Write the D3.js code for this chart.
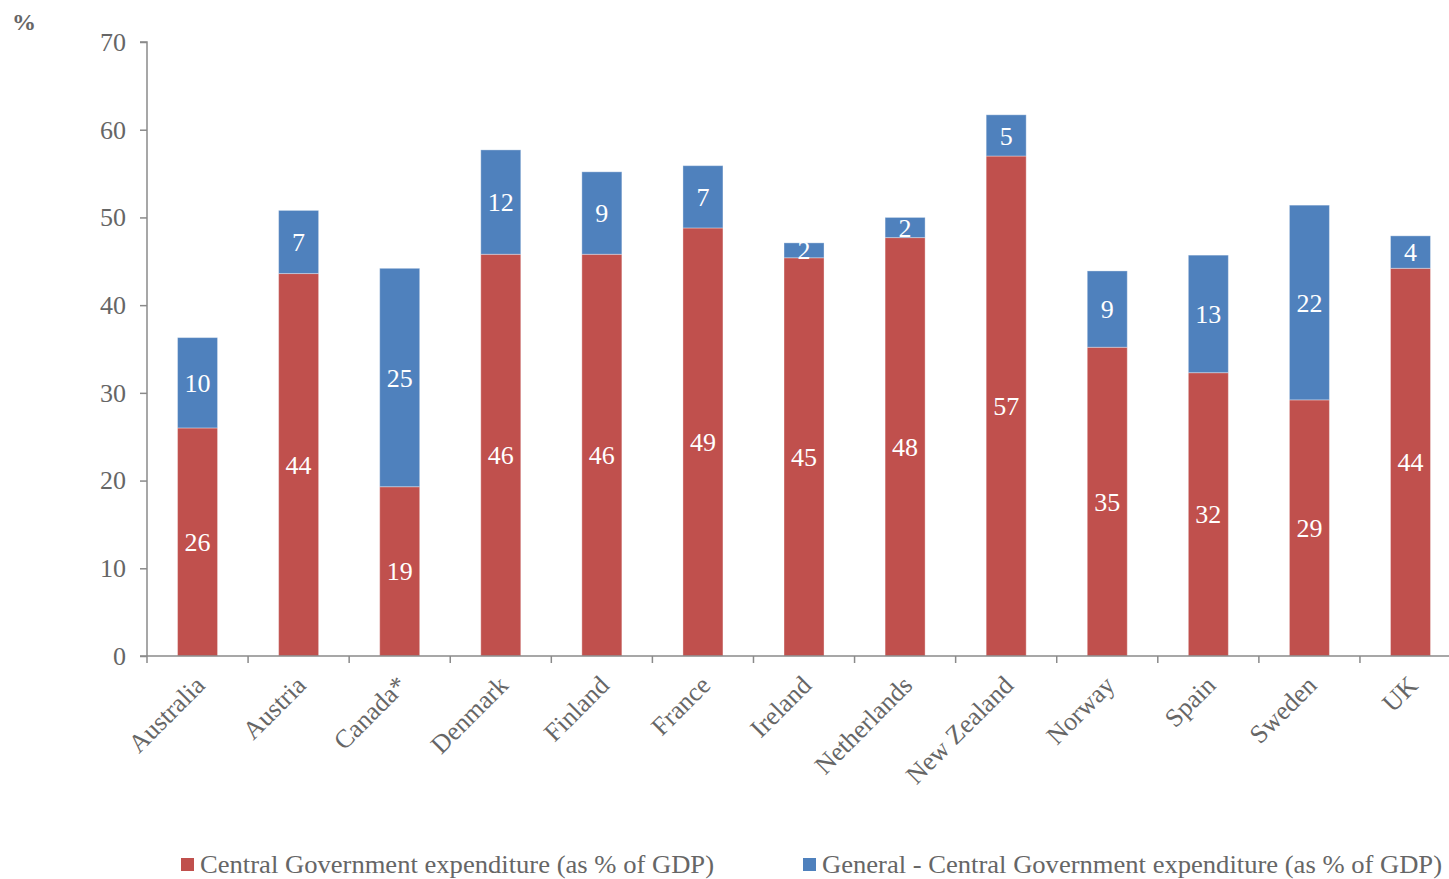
<!DOCTYPE html>
<html>
<head>
<meta charset="utf-8">
<script src="https://cdn.jsdelivr.net/npm/d3@7"></script>
<style>
  body { margin: 0; background: #fff; }
  svg { display: block; }
</style>
</head>
<body>
<svg id="chart" width="1449" height="879"></svg>
<script>
// data
let countries = ["Australia", "Austria", "Canada*", "Denmark", "Finland", "France", "Ireland",
  "Netherlands", "New Zealand", "Norway", "Spain", "Sweden", "UK"];
let central = [26.0, 43.6, 19.3, 45.8, 45.8, 48.8, 45.4, 47.7, 57.0, 35.2, 32.3, 29.2, 44.2];
let general = [10.3, 7.2, 24.9, 11.9, 9.4, 7.1, 1.7, 2.3, 4.7, 8.7, 13.4, 22.2, 3.7];
let series_names = ["Central Government expenditure (as % of GDP)",
  "General - Central Government expenditure (as % of GDP)"];
let y_ticks = [0, 10, 20, 30, 40, 50, 60, 70];

let colors = ["#C0504D", "#4F81BD"];
let font = "'Liberation Serif', 'Times New Roman', serif";
let grey_text = "#666666";
let axis_color = "#8a8a8a";

let svg = d3.select("#chart");

let left = 147;
let band_w = 101.08;
let x = d3.scaleBand()
  .domain(countries)
  .range([left, left + band_w * countries.length])
  .paddingInner(0)
  .paddingOuter(0);

let y = d3.scaleLinear()
  .domain([0, 70])
  .range([656, 42]);

let bar_w = 40;

let stacked = countries.map((c, i) => {
  return [
    {key: 0, country: c, y0: 0, y1: central[i], v: central[i]},
    {key: 1, country: c, y0: central[i], y1: central[i] + general[i], v: general[i]}
  ];
});

let bars = svg.append("g").attr("class", "bars");
stacked.forEach(segs => {
  let g = bars.append("g");
  g.selectAll("rect").data(segs).enter().append("rect")
    .attr("x", d => x(d.country) + x.bandwidth() / 2 - bar_w / 2)
    .attr("width", bar_w)
    .attr("y", d => y(d.y1))
    .attr("height", d => y(d.y0) - y(d.y1))
    .attr("fill", d => colors[d.key])
    .attr("stroke", "#ffffff")
    .attr("stroke-opacity", 0.35)
    .attr("stroke-width", 1);

  g.selectAll("text").data(segs).enter().append("text")
    .attr("x", d => x(d.country) + x.bandwidth() / 2)
    .attr("y", d => (y(d.y0) + y(d.y1)) / 2)
    .attr("dy", "0.35em")
    .attr("text-anchor", "middle")
    .attr("fill", "#ffffff")
    .style("font-family", font)
    .style("font-size", "26px")
    .text(d => Math.round(d.v));
});

// y axis
let yAxis = d3.axisLeft(y).tickValues(y_ticks).tickSize(7).tickPadding(14);
let yg = svg.append("g").attr("transform", "translate(" + left + ",0)").call(yAxis);
yg.select(".domain").attr("stroke", axis_color).attr("stroke-width", 1.5)
  .attr("d", "M-7," + y(70) + "H0V" + y(0));
yg.selectAll(".tick line").attr("stroke", axis_color).attr("stroke-width", 1.5);
yg.selectAll(".tick text").attr("fill", grey_text)
  .style("font-family", font).style("font-size", "26px");

// x axis line and ticks between categories
let xg = svg.append("g");
xg.append("line")
  .attr("x1", left - 7).attr("x2", 1449)
  .attr("y1", y(0)).attr("y2", y(0))
  .attr("stroke", axis_color).attr("stroke-width", 1.5);
xg.selectAll(".xtick").data(countries).enter().append("line").attr("class", "xtick")
  .attr("x1", d => x(d)).attr("x2", d => x(d))
  .attr("y1", y(0)).attr("y2", y(0) + 7)
  .attr("stroke", axis_color).attr("stroke-width", 1.5);
xg.selectAll(".xlabel").data(countries).enter().append("text").attr("class", "xlabel")
  .attr("transform", d => "translate(" + (x(d) + x.bandwidth() / 2 - 4) + "," + (y(0) + 18) + ") rotate(-45)")
  .attr("text-anchor", "end")
  .attr("dy", "0.7em")
  .attr("fill", grey_text)
  .style("font-family", font)
  .style("font-size", "26px")
  .text(d => d);

// unit label
svg.append("text")
  .attr("x", 12).attr("y", 30)
  .attr("fill", grey_text)
  .style("font-family", font)
  .style("font-size", "24px")
  .style("font-weight", "bold")
  .text("%");

// legend
let legend_x = [181, 803];
let legend_len = [514, 620];
let legend = svg.append("g");
series_names.forEach((name, i) => {
  legend.append("rect")
    .attr("x", legend_x[i]).attr("y", 858)
    .attr("width", 13).attr("height", 13)
    .attr("fill", colors[i]);
  legend.append("text")
    .attr("x", legend_x[i] + 19).attr("y", 873)
    .attr("fill", grey_text)
    .attr("textLength", legend_len[i])
    .attr("lengthAdjust", "spacingAndGlyphs")
    .style("font-family", font)
    .style("font-size", "25px")
    .text(name);
});
</script>
</body>
</html>
